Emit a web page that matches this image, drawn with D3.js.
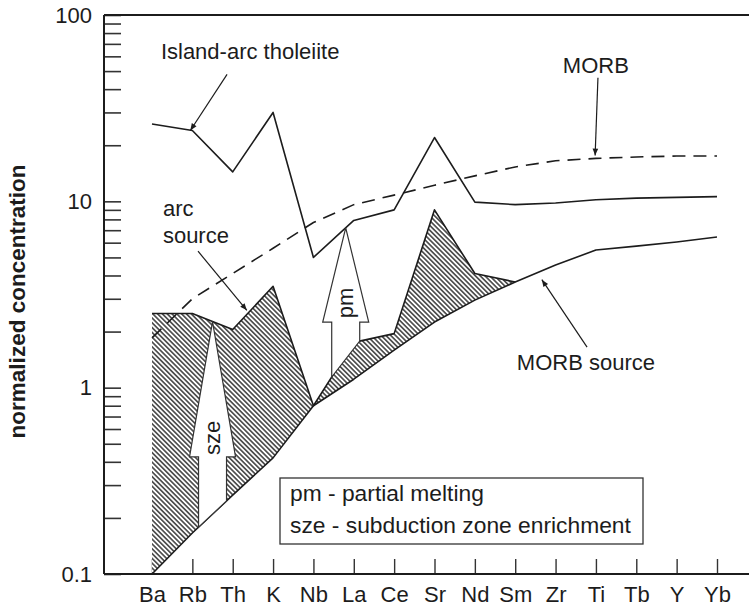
<!DOCTYPE html>
<html lang="en">
<head>
<meta charset="UTF-8">
<title>normalized concentration</title>
<script src="https://d3js.org/d3.v7.min.js"></script>
<style>
  body { margin: 0; background: #fff; }
  svg text { font-family: "Liberation Sans", Arial, sans-serif; fill: #1c1c1c; }
</style>
</head>
<body>
<div id="chart"></div>
<script>
// element order along the x axis
var elements = ["Ba","Rb","Th","K","Nb","La","Ce","Sr","Nd","Sm","Zr","Ti","Tb","Y","Yb"];

// normalized concentrations
var islandArc  = [26, 24, 14.4, 30, 5.0, 7.9, 9.0, 22, 9.9, 9.6, 9.8, 10.2, 10.4, 10.5, 10.6];
var morb       = [1.85, 3.0, 4.1, 5.6, 7.7, 9.6, 10.8, 12.2, 13.7, 15.3, 16.5, 17.0, 17.3, 17.5, 17.5];
var morbSource = [0.1, 0.166, 0.265, 0.42, 0.8, 1.11, 1.59, 2.25, 2.95, 3.69, 4.55, 5.48, 5.75, 6.05, 6.43];
var arcSource  = [2.5, 2.5, 2.05, 3.5, 0.8, 1.75, 1.95, 9.0, 4.1, 3.69, null, null, null, null, null];

var yTickLabels = ["0.1", "1", "10", "100"];

// annotations, in data units (i = position along element axis, v = concentration)
var labels = [
  {text: "Island-arc tholeiite", i: 0.22, v: 58},
  {text: "MORB", i: 10.18, v: 49},
  {text: "arc", i: 0.27, v: 8.3},
  {text: "source", i: 0.27, v: 6.0},
  {text: "MORB source", i: 9.04, v: 1.24}
];
var pointers = [
  {from: [1.86, 48], to: [0.95, 24]},
  {from: [11.05, 46], to: [10.98, 17.6]},
  {from: [1.14, 5.4], to: [2.35, 2.6]},
  {from: [10.78, 1.65], to: [9.66, 3.8]}
];
var bigArrows = [
  {text: "sze", i: 1.5, head: 0.425, top: arcSource, bottom: morbSource},
  {text: "pm", i: 4.8, head: 2.25, top: islandArc, bottom: arcSource}
];
var legendLines = ["pm - partial melting", "sze - subduction zone enrichment"];

var W = 749, H = 607;
var plot = {left: 104, right: 749, top: 15, bottom: 574};
var fs = 22;

var x = d3.scalePoint().domain(elements).range([152, 717]);
var y = d3.scaleLog().domain([0.1, 100]).range([plot.bottom, plot.top]);

function xi(i) { return x(elements[0]) + i * x.step(); }
function interp(series, i) {
  var a = Math.floor(i), b = Math.min(a + 1, series.length - 1), t = i - a;
  var la = Math.log10(series[a]), lb = Math.log10(series[b]);
  return Math.pow(10, la + (lb - la) * t);
}

var svg = d3.select("#chart").append("svg")
  .attr("width", W).attr("height", H);

var defs = svg.append("defs");
var pat = defs.append("pattern").attr("id", "hatch")
  .attr("patternUnits", "userSpaceOnUse")
  .attr("width", 3.4).attr("height", 3.4)
  .attr("patternTransform", "rotate(-45)");
pat.append("rect").attr("width", 3.4).attr("height", 3.4).attr("fill", "#fff");
pat.append("line").attr("x1", 1.7).attr("x2", 1.7).attr("y1", 0).attr("y2", 3.4)
  .attr("stroke", "#2a2a2a").attr("stroke-width", 1.4);

defs.append("marker").attr("id", "tip")
  .attr("viewBox", "0 0 10 10").attr("refX", 10).attr("refY", 5)
  .attr("markerWidth", 10).attr("markerHeight", 7)
  .attr("markerUnits", "userSpaceOnUse").attr("orient", "auto")
  .append("path").attr("d", "M0,1L10,5L0,9Z").attr("fill", "#1c1c1c");

// y axis ticks (inside), labels only on decades
var yTicks = [];
[0.1, 1, 10].forEach(function(d) {
  for (var k = 1; k < 10; k++) yTicks.push(+(k * d).toPrecision(6));
});
yTicks.push(100);
var decadeVals = yTickLabels.map(Number);

var yAxis = svg.append("g")
  .attr("transform", "translate(" + plot.left + ",0)")
  .call(d3.axisLeft(y).tickValues(yTicks).tickSize(-17).tickPadding(12)
    .tickFormat(function(d) {
      var j = decadeVals.indexOf(d);
      return j >= 0 ? yTickLabels[j] : "";
    }));
yAxis.select(".domain").remove();
yAxis.selectAll("line").attr("stroke", "#333").attr("stroke-width", 1.6);
yAxis.selectAll("text").attr("font-size", fs).attr("fill", "#1c1c1c");

var xAxis = svg.append("g")
  .attr("transform", "translate(0," + plot.bottom + ")")
  .call(d3.axisBottom(x).tickSize(-15).tickSizeOuter(0).tickPadding(12));
xAxis.select(".domain").remove();
xAxis.selectAll("line").attr("stroke", "#333").attr("stroke-width", 1.4);
xAxis.selectAll("text").attr("font-size", fs).attr("fill", "#1c1c1c");

// frame: left, bottom, top
var frame = svg.append("g").attr("stroke", "#1c1c1c").attr("stroke-width", 2);
frame.append("line").attr("x1", plot.left).attr("x2", plot.left).attr("y1", plot.top).attr("y2", plot.bottom);
frame.append("line").attr("x1", plot.left).attr("x2", plot.right).attr("y1", plot.bottom).attr("y2", plot.bottom);
frame.append("line").attr("x1", plot.left).attr("x2", plot.right).attr("y1", plot.top).attr("y2", plot.top);

svg.append("text")
  .attr("transform", "translate(25," + ((plot.top + plot.bottom) / 2 + 7) + ") rotate(-90)")
  .attr("text-anchor", "middle")
  .attr("font-size", 22.5).attr("font-weight", "bold")
  .text("normalized concentration");

// hatched enrichment area between MORB source and arc source
var area = d3.area()
  .defined(function(d, i) { return arcSource[i] != null; })
  .x(function(d, i) { return x(elements[i]); })
  .y0(function(d, i) { return y(morbSource[i]); })
  .y1(function(d, i) { return y(arcSource[i]); });
svg.append("path").datum(elements).attr("d", area).attr("fill", "url(#hatch)");

function lineOf(series) {
  return d3.line()
    .defined(function(d) { return d != null; })
    .x(function(d, i) { return x(elements[i]); })
    .y(function(d) { return y(d); })(series);
}

svg.append("path").attr("d", lineOf(arcSource))
  .attr("fill", "none").attr("stroke", "#1c1c1c").attr("stroke-width", 1.6).attr("stroke-linejoin", "round");
svg.append("path").attr("d", lineOf(morbSource))
  .attr("fill", "none").attr("stroke", "#1c1c1c").attr("stroke-width", 1.6).attr("stroke-linejoin", "round");
svg.append("path").attr("d", lineOf(islandArc))
  .attr("fill", "none").attr("stroke", "#1c1c1c").attr("stroke-width", 1.6).attr("stroke-linejoin", "round");
svg.append("path").attr("d", lineOf(morb))
  .attr("fill", "none").attr("stroke", "#1c1c1c").attr("stroke-width", 1.6)
  .attr("stroke-dasharray", "13,8");

// hollow arrows (sze, pm)
bigArrows.forEach(function(a) {
  var cx = xi(a.i), shaft = 14, headW = 23;
  var tipY = y(interp(a.top, a.i)), headY = y(a.head);
  var xl = cx - shaft, xr = cx + shaft;
  var yl = y(interp(a.bottom, (xl - x(elements[0])) / x.step()));
  var yr = y(interp(a.bottom, (xr - x(elements[0])) / x.step()));
  var p = d3.path();
  p.moveTo(cx, tipY);
  p.lineTo(cx + headW, headY);
  p.lineTo(xr, headY);
  p.lineTo(xr, yr);
  p.lineTo(xl, yl);
  p.lineTo(xl, headY);
  p.lineTo(cx - headW, headY);
  p.closePath();
  svg.append("path").attr("d", p.toString())
    .attr("fill", "#fff").attr("stroke", "#333").attr("stroke-width", 1.2);
  svg.append("text")
    .attr("transform", "translate(" + cx + "," + (headY - 19) + ") rotate(-90)")
    .attr("text-anchor", "middle").attr("dominant-baseline", "central")
    .attr("font-size", fs).text(a.text);
});

// text labels and pointer arrows
svg.selectAll(".lbl").data(labels).enter().append("text")
  .attr("class", "lbl")
  .attr("x", function(d) { return xi(d.i); })
  .attr("y", function(d) { return y(d.v); })
  .attr("font-size", fs)
  .text(function(d) { return d.text; });

svg.selectAll(".ptr").data(pointers).enter().append("line")
  .attr("class", "ptr")
  .attr("x1", function(d) { return xi(d.from[0]); })
  .attr("y1", function(d) { return y(d.from[1]); })
  .attr("x2", function(d) { return xi(d.to[0]); })
  .attr("y2", function(d) { return y(d.to[1]); })
  .attr("stroke", "#1c1c1c").attr("stroke-width", 1.2)
  .attr("marker-end", "url(#tip)");

// legend box
var lg = svg.append("g").attr("transform", "translate(280,478)");
lg.append("rect").attr("width", 363).attr("height", 66)
  .attr("fill", "#fff").attr("stroke", "#333").attr("stroke-width", 1.3);
lg.selectAll("text").data(legendLines).enter().append("text")
  .attr("x", 10)
  .attr("y", function(d, i) { return 23 + i * 32; })
  .attr("font-size", 22.8)
  .text(function(d) { return d; });
</script>
</body>
</html>
